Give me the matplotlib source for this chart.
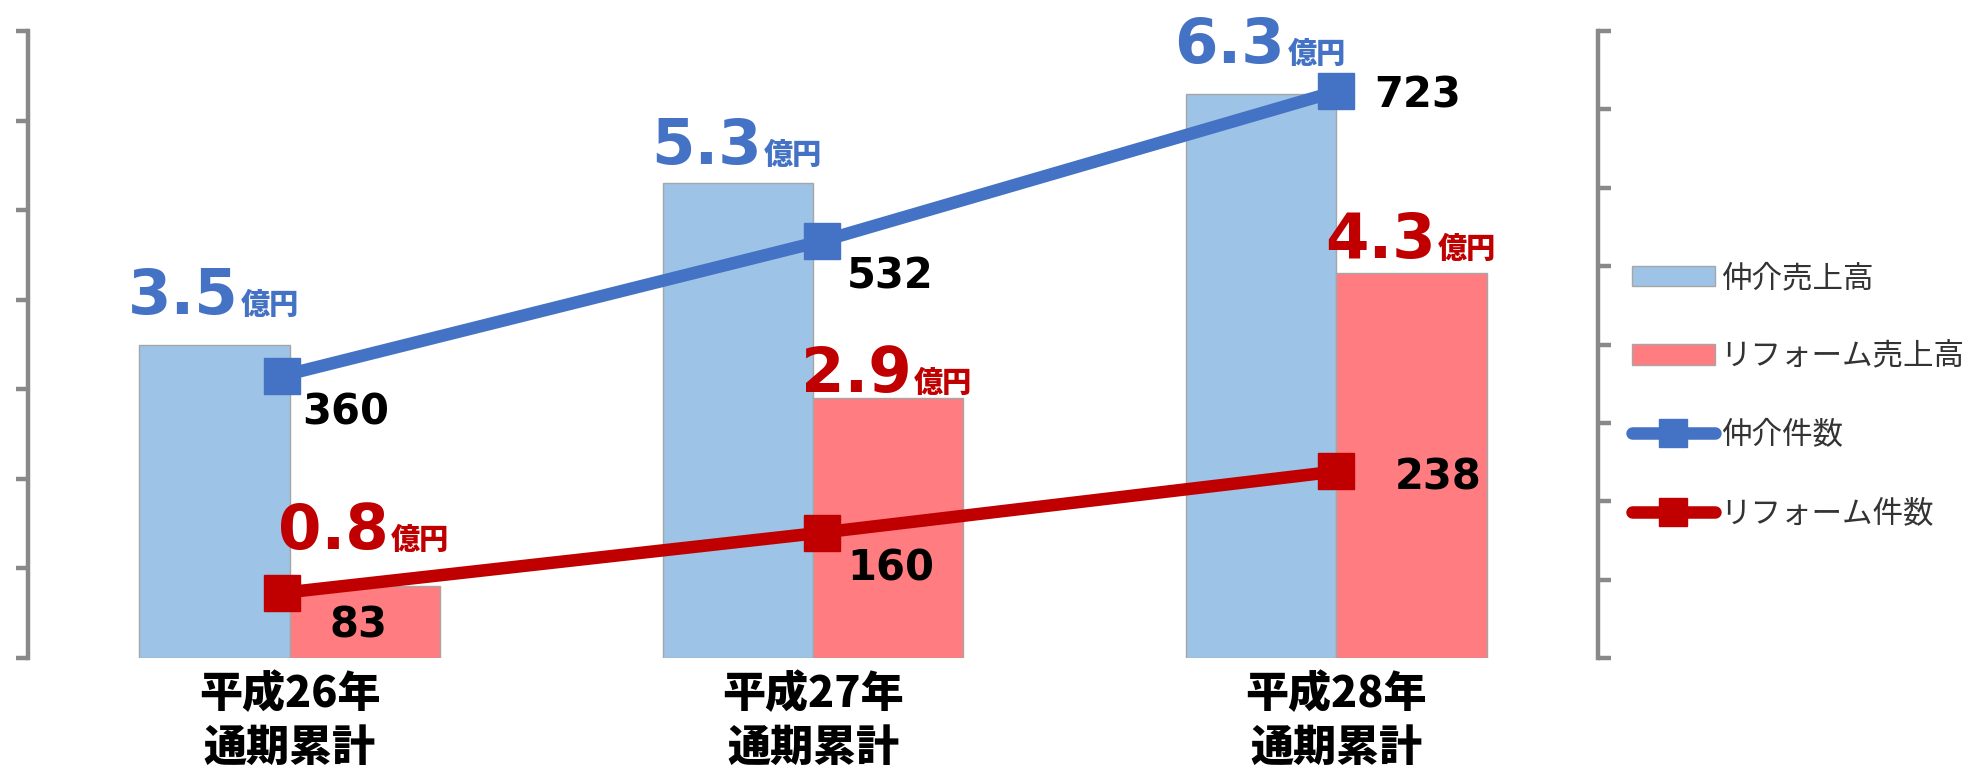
import matplotlib
matplotlib.use("Agg")
import matplotlib.pyplot as plt
from matplotlib.lines import Line2D
from matplotlib.patches import Patch
import numpy as np

# ---- data ----
categories = ["平成26年\n通期累計", "平成27年\n通期累計", "平成28年\n通期累計"]
sales_brokerage = [3.5, 5.3, 6.3]      # 仲介売上高 (億円)
sales_reform = [0.8, 2.9, 4.3]         # リフォーム売上高 (億円)
count_brokerage = [360, 532, 723]      # 仲介件数
count_reform = [83, 160, 238]          # リフォーム件数
legend_labels = ["仲介売上高", "リフォーム売上高", "仲介件数", "リフォーム件数"]
unit_label = "億円"

# ---- style ----
C_BAR_BLUE = "#9DC3E6"
C_BAR_RED = "#FF7C80"
C_LINE_BLUE = "#4472C4"
C_LINE_RED = "#C00000"
C_AXIS = "#898989"
JP = ["Noto Sans CJK JP", "DejaVu Sans"]
NUM = ["DejaVu Sans"]

W, H = 1972, 776
fig = plt.figure(figsize=(W / 100, H / 100), dpi=100)
ax_l, ax_r, ax_t, ax_b = 28, 1598, 31, 658
ax = fig.add_axes([ax_l / W, 1 - ax_b / H, (ax_r - ax_l) / W, (ax_b - ax_t) / H])
ax2 = ax.twinx()

x = np.arange(len(categories))
bw = 0.287
ax.bar(x - bw / 2, sales_brokerage, width=bw, color=C_BAR_BLUE, edgecolor="#A6A6A6", linewidth=1, zorder=2)
ax.bar(x + bw / 2, sales_reform, width=bw, color=C_BAR_RED, edgecolor="#A6A6A6", linewidth=1, zorder=2)

ax.set_xlim(-0.5, len(categories) - 0.5)
ax.set_ylim(0, 7)
ax.set_yticks(np.arange(0, 8, 1))
ax2.set_ylim(0, 800)
ax2.set_yticks(np.arange(0, 900, 100))

for a in (ax, ax2):
    for s in a.spines.values():
        s.set_visible(False)
    a.tick_params(axis="y", labelleft=False, labelright=False, length=9, width=3.2, color=C_AXIS, direction="out")
ax.spines["left"].set_visible(True)
ax.spines["left"].set_color(C_AXIS)
ax.spines["left"].set_linewidth(3.2)
ax2.spines["right"].set_visible(True)
ax2.spines["right"].set_color(C_AXIS)
ax2.spines["right"].set_linewidth(3.2)
ax.tick_params(axis="y", left=True, right=False)
ax2.tick_params(axis="y", left=False, right=True)
ax.set_xticks([])

# lines (slight horizontal shift of the marker positions, as in the original)
line_dx = np.array([-0.015, 0.017, 0.0])
xl = x + line_dx
ax2.plot(xl, count_brokerage, color=C_LINE_BLUE, lw=9, marker="s", markersize=26, zorder=3)
ax2.plot(xl, count_reform, color=C_LINE_RED, lw=9, marker="s", markersize=26, zorder=3)

# value labels (bars)
jx = 17.3
blue_dy = [22.1, 14.0, 22.1]
red_dy = [26.6, 4.4, 10.7]
for i in range(len(categories)):
    for val, xc, col, dy in ((sales_brokerage[i], x[i] - bw / 2, C_LINE_BLUE, blue_dy[i]),
                             (sales_reform[i], x[i] + bw / 2, C_LINE_RED, red_dy[i])):
        ax.annotate(f"{val:.1f}", xy=(xc, val), xytext=(jx, dy), textcoords="offset points",
                    ha="right", va="baseline", fontsize=45, fontweight="bold", color=col,
                    family=NUM, zorder=5)
        ax.annotate(unit_label, xy=(xc, val), xytext=(jx + 1.5, dy), textcoords="offset points",
                    ha="left", va="baseline", fontsize=21, fontweight="heavy", color=col,
                    family=JP, zorder=5)

# count labels
blue_off = [(14.5, -26.6), (18.1, -25.6), (27.2, -2.7)]
red_off = [(34.4, -23.2), (18.1, -25.9), (41.7, -4.1)]
for i in range(len(categories)):
    ax2.annotate(f"{count_brokerage[i]}", xy=(xl[i], count_brokerage[i]), xytext=blue_off[i],
                 textcoords="offset points", ha="left", va="center", fontsize=30,
                 fontweight="bold", color="black", family=NUM, zorder=6)
    ax2.annotate(f"{count_reform[i]}", xy=(xl[i], count_reform[i]), xytext=red_off[i],
                 textcoords="offset points", ha="left", va="center", fontsize=30,
                 fontweight="bold", color="black", family=NUM, zorder=6)

# category labels
for i, lab in enumerate(categories):
    ax.text(x[i], -0.024, lab, transform=ax.get_xaxis_transform(), ha="center", va="top",
            fontsize=31, fontweight="heavy", family=JP, linespacing=1.3, color="black")

# legend
handles = [
    Patch(facecolor=C_BAR_BLUE, edgecolor="#A6A6A6", linewidth=1),
    Patch(facecolor=C_BAR_RED, edgecolor="#A6A6A6", linewidth=1),
    Line2D([0], [0], color=C_LINE_BLUE, lw=9, marker="s", markersize=20, solid_capstyle="round"),
    Line2D([0], [0], color=C_LINE_RED, lw=9, marker="s", markersize=20, solid_capstyle="round"),
]
fig.legend(handles, legend_labels, loc="center left", bbox_to_anchor=(1632 / W, 1 - 396 / H),
           frameon=False, prop={"family": JP, "size": 22}, labelcolor="#333333",
           handlelength=2.7, handleheight=0.65, handletextpad=0.2, labelspacing=1.55,
           borderpad=0, borderaxespad=0)

fig.savefig("out.png", dpi=100)
